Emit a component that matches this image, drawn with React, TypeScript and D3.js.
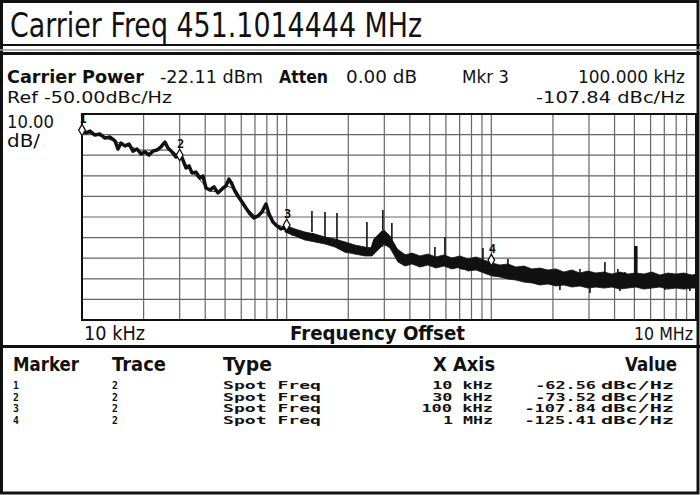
import * as d3 from 'd3'

// phase noise trace (offset in kHz, level in dBc/Hz)
const traceFreq = [10, 10.46, 10.94, 11.57, 12.24, 12.95, 13.7, 14.49, 14.99, 15.51, 16.22, 16.98, 17.75, 18.57, 19.42, 20.31, 21.24, 22.23, 23.23, 24.32, 25.42, 26.3, 27.54, 28.77, 30.13, 31.12, 32.21, 33.34, 34.45, 36.06, 37.67, 38.99, 40.36, 42.17, 44.16, 46.13, 48.31, 50.47, 52.24, 54.08, 55.85, 57.81, 60.53, 63.24, 66.22, 69.18, 72.44, 75.68, 79.25, 82.03, 85.7, 89.74, 93.76, 98.17, 102.6, 107.4, 112.2, 117.5, 122.8, 128.5, 134.3, 140.6, 147.2, 155.6, 164.6, 174.2, 184.1, 195, 206.1, 218.3, 230.7, 243.8, 258.2, 270, 282.5, 295.1, 309, 323.6, 338.1, 354, 369.8, 391.7, 414, 437.5, 463.4, 489.8, 518.6, 548.3, 580.7, 613.8, 648.6, 687.1, 726.1, 769.1, 812.8, 861, 909.9, 961.6, 1018.6, 1076.5, 1153.5, 1233, 1318.3, 1412.5, 1510, 1614.4, 1725.8, 1849.3, 1977, 2113.5, 2264.6, 2421, 2588.1, 2773.3, 2964.8, 3169.7, 3396.3, 3630.8, 3881.5, 4149.5, 4446.3, 4753.4, 5081.6, 5445, 5821, 6223, 6668, 7128.5, 7620.8, 8165.8, 8729.6, 9332.5, 10000]
const traceDb = [-57.8, -59.2, -58.3, -60.2, -59.7, -61.7, -61.2, -63.1, -67.0, -64.1, -65.5, -64.6, -68.0, -67.0, -69.4, -68.4, -69.9, -68.0, -67.5, -66.0, -63.6, -66.5, -68.4, -70.9, -68.9, -72.3, -76.2, -75.2, -78.6, -78.2, -81.1, -80.1, -85.9, -86.9, -85.4, -88.3, -86.4, -84.9, -81.6, -84.0, -87.4, -89.8, -92.7, -95.6, -98.5, -100.5, -99.5, -97.6, -93.7, -98.5, -102.4, -104.4, -105.8, -104.9, -106.3, -108.3, -107.3, -109.7, -108.3, -110.2, -108.7, -111.2, -110.2, -112.1, -111.7, -113.6, -115.0, -116.5, -114.6, -116.0, -115.5, -117.5, -117.0, -111.2, -109.2, -107.3, -110.2, -112.1, -116.0, -118.9, -119.9, -120.9, -120.4, -121.8, -120.9, -122.3, -121.4, -122.3, -121.8, -120.9, -122.3, -123.8, -124.8, -124.3, -124.8, -123.8, -124.8, -126.2, -125.2, -126.7, -126.2, -127.2, -126.7, -127.7, -127.7, -128.6, -128.2, -129.1, -129.1, -130.1, -129.6, -130.6, -130.1, -131.1, -131.6, -131.1, -131.6, -131.1, -131.6, -131.1, -131.6, -130.6, -131.1, -131.6, -131.1, -131.6, -131.1, -131.6, -131.1, -131.6, -131.1, -131.6, -131.1]

// smoothed reference trace
const smoothFreq = [10, 12.24, 15.33, 19.2, 24.04, 26.91, 30.13, 33.71, 37.67, 42.17, 47.21, 51.64, 56.49, 62.55, 69.98, 78.32, 87.7, 100.3, 130, 182, 255.3, 319.9, 400.3, 628.1, 984, 1932, 4246, 10000]
const smoothDb = [-58.3, -60.7, -64.1, -67.5, -67.5, -67.5, -70.4, -77.2, -82.0, -87.4, -87.9, -85.0, -86.9, -94.7, -99.5, -97.6, -103.4, -105.3, -109.2, -113.1, -116.0, -113.1, -119.9, -121.8, -124.8, -128.6, -130.6, -130.6]

// noise band beyond 100 kHz (upper and lower edge)
const bandFreq = [98.1, 109.8, 122.9, 137.5, 153.9, 172.2, 192.7, 215.6, 241.3, 261.1, 279.3, 298.8, 319.6, 349.7, 378.5, 409.5, 448, 490, 536.3, 586.8, 642.1, 702.5, 768.7, 841, 920.2, 1006.7, 1101.6, 1205.3, 1318.7, 1442.8, 1578.4, 1727.2, 1889.8, 2067.8, 2262.5, 2475, 2708.4, 2963.5, 3242.4, 3548, 3882.4, 4247.6, 4647.6, 5085.5, 5564.6, 6088.6, 6662.2, 7288.1, 7975, 8726.5, 9549.9, 10000]
const bandTop = [-103.9, -105.8, -107.3, -108.3, -109.7, -110.7, -112.1, -113.6, -114.6, -115.0, -110.2, -106.3, -109.2, -116.0, -118.4, -117.5, -118.9, -118.0, -119.4, -118.4, -119.9, -118.9, -120.4, -119.4, -120.9, -122.3, -123.3, -122.8, -124.3, -123.8, -125.2, -124.8, -125.7, -125.2, -126.7, -125.7, -127.2, -126.2, -127.2, -126.7, -127.7, -126.7, -127.7, -127.2, -127.7, -126.7, -128.2, -127.2, -127.7, -127.2, -128.2, -127.7]
const bandBottom = [-107.3, -109.2, -111.2, -112.1, -113.1, -114.6, -117.0, -118.0, -118.9, -118.9, -116.0, -113.1, -115.0, -121.8, -123.8, -122.8, -124.3, -123.3, -124.8, -123.8, -125.2, -124.3, -126.2, -125.7, -127.2, -128.6, -129.1, -130.1, -130.6, -131.6, -132.0, -133.0, -132.5, -133.5, -133.0, -134.0, -133.5, -134.5, -134.0, -134.5, -134.0, -135.0, -134.5, -134.0, -135.0, -134.5, -134.0, -135.0, -134.5, -135.0, -134.5, -134.5]

// spurs
const spurFreq = [132.9, 153.9, 176.1, 246.7, 295.1, 326.6, 530, 593.1, 909.9, 1205, 2710, 3589, 4150, 4498]
const spurTop = [-97.1, -97.6, -98.1, -102.4, -96.6, -102.9, -114.6, -109.7, -115.0, -120.4, -125.2, -121.8, -125.2, -126.7]
const spurBase = [-107.3, -110.2, -111.2, -116.0, -106.3, -111.2, -119.9, -119.9, -121.8, -125.7, -128.6, -128.6, -128.6, -128.6]
const wideSpurFreq = [5082]
const wideSpurTop = [-114.1]
const wideSpurBase = [-128.6]
const dipFreq = [2163, 3034, 4246, 7046, 9333]
const dipLevel = [-135.4, -136.9, -135.9, -135.4, -135.9]
const dipBase = [-132.5, -133.0, -133.0, -133.0, -133.0]

// markers
const markerNo = ['1', '2', '3', '4']
const markerTrace = ['2', '2', '2', '2']
const markerType = ['Spot Freq', 'Spot Freq', 'Spot Freq', 'Spot Freq']
const markerAxis = ['10 kHz', '30 kHz', '100 kHz', '1 MHz']
const markerFreq = [10, 30, 100, 1000]
const markerLevel = [-57.8, -69.9, -103.9, -120.9]
const markerValue = ['-62.56', '-73.52', '-107.84', '-125.41']

const sans = 'DejaVu Sans, sans-serif'
const mono = 'DejaVu Sans Mono, monospace'

function T({ x, y, s, size, len, bold = false, anchor = 'start', font = sans }: any) {
  return (
    <text x={x} y={y} fontSize={size} fontFamily={font} fontWeight={bold ? 'bold' : 'normal'}
      textAnchor={anchor} textLength={len} lengthAdjust="spacingAndGlyphs" fill="#111">{s}</text>
  )
}

export default function App() {
  const x = d3.scaleLog().domain([10, 10000]).range([82, 696])
  const y = d3.scaleLinear().domain([-50, -150]).range([114, 320])
  const [x0, x1] = x.range()
  const [y0, y1] = y.range()

  const trace = traceFreq.map((f, i) => [f, traceDb[i]] as [number, number]).filter(d => d[1] !== undefined)
  const smooth = smoothFreq.map((f, i) => [f, smoothDb[i]] as [number, number])
  const band = bandFreq.map((f, i) => ({ f, t: bandTop[i], b: bandBottom[i] }))

  const line = d3.line<[number, number]>().x(d => x(d[0])).y(d => y(d[1]))
  const area = d3.area<{ f: number; t: number; b: number }>()
    .x(d => x(d.f)).y0(d => y(d.b)).y1(d => y(d.t))
  const diamond = d3.symbol(d3.symbolDiamond, 38)()

  const xGrid = x.ticks().filter(v => v > 10 && v < 10000)
  const yGrid = y.ticks(10).filter(v => v < -50 && v > -150)
  const rowY = [389, 400.5, 412, 423.5]
  const rowSize = 9.8

  return (
    <svg width={700} height={495} style={{ position: 'absolute', left: 0, top: 0 }}>
      <rect x={0} y={0} width={700} height={495} fill="#fff" />

      {/* frames */}
      <rect x={1.5} y={1.5} width={696.5} height={491.5} fill="none" stroke="#111" strokeWidth={3} />
      <line x1={0} x2={700} y1={45} y2={45} stroke="#111" strokeWidth={2} />
      <line x1={0} x2={700} y1={50} y2={50} stroke="#999" strokeWidth={1.5} />
      <line x1={0} x2={700} y1={53.5} y2={53.5} stroke="#111" strokeWidth={3} />
      <line x1={0} x2={700} y1={346.5} y2={346.5} stroke="#111" strokeWidth={3} />

      {/* title */}
      <T x={10} y={37} s="Carrier Freq 451.1014444 MHz" size={33} len={412} />

      {/* header */}
      <T x={7} y={83} s="Carrier Power" size={18} len={137} bold />
      <T x={160} y={83} s="-22.11 dBm" size={18} len={103} />
      <T x={279} y={83} s="Atten" size={18} len={49} bold />
      <T x={346} y={83} s="0.00 dB" size={18} len={71} />
      <T x={462} y={83} s="Mkr 3" size={17} len={47} />
      <T x={685} y={83} s="100.000 kHz" size={18} len={107} anchor="end" />
      <T x={7} y={102.5} s="Ref -50.00dBc/Hz" size={16} len={165} />
      <T x={685} y={102.5} s="-107.84 dBc/Hz" size={16} len={149} anchor="end" />
      <T x={7} y={128} s="10.00" size={17} len={47} />
      <T x={7} y={147} s="dB/" size={17} len={33} />

      {/* grid */}
      <g stroke="#666" strokeWidth={1.2}>
        {xGrid.map(v => <line key={'gx' + v} x1={x(v)} x2={x(v)} y1={y0} y2={y1} />)}
        {yGrid.map(v => <line key={'gy' + v} x1={x0} x2={x1} y1={y(v)} y2={y(v)} />)}
      </g>
      <rect x={x0} y={y0} width={x1 - x0} height={y1 - y0} fill="none" stroke="#111" strokeWidth={2} />

      {/* traces */}
      <path d={line(smooth) ?? ''} fill="none" stroke="#333" strokeWidth={1} />
      <path d={area(band) ?? ''} fill="#111" stroke="#111" strokeWidth={0.8} />
      <path d={line(trace) ?? ''} fill="none" stroke="#111" strokeWidth={3.5} strokeLinejoin="round" />
      <g stroke="#111" strokeWidth={1.6}>
        {spurFreq.map((f, i) => <line key={'s' + i} x1={x(f)} x2={x(f)} y1={y(spurTop[i])} y2={y(spurBase[i])} />)}
        {dipFreq.map((f, i) => <line key={'d' + i} x1={x(f)} x2={x(f)} y1={y(dipBase[i])} y2={y(dipLevel[i])} />)}
      </g>
      {wideSpurFreq.map((f, i) => (
        <line key={'w' + i} x1={x(f)} x2={x(f)} y1={y(wideSpurTop[i])} y2={y(wideSpurBase[i])} stroke="#111" strokeWidth={3.5} />
      ))}

      {/* markers */}
      {markerFreq.map((f, i) => (
        <g key={'m' + i} transform={`translate(${x(f)},${y(markerLevel[i])})`}>
          <path d={diamond ?? ''} fill="#fff" stroke="#111" strokeWidth={1.3} />
          <text x={1} y={-7} fontSize={12} fontFamily={mono} fontWeight="bold" textAnchor="middle" fill="#111">{markerNo[i]}</text>
        </g>
      ))}

      {/* axis labels */}
      <T x={84} y={340} s="10 kHz" size={19} len={61} />
      <T x={290} y={340} s="Frequency Offset" size={19} len={175} bold />
      <T x={693} y={340} s="10 MHz" size={18} len={59} anchor="end" />

      {/* marker table */}
      <T x={13} y={371} s="Marker" size={19} len={66} bold />
      <T x={112} y={371} s="Trace" size={19} len={54} bold />
      <T x={223} y={371} s="Type" size={19} len={49} bold />
      <T x={495} y={371} s="X Axis" size={19} len={62} bold anchor="end" />
      <T x={677} y={371} s="Value" size={19} len={52} bold anchor="end" />
      {markerNo.map((m, i) => (
        <g key={'r' + i}>
          <T x={13} y={rowY[i]} s={m} size={rowSize} font={mono} bold />
          <T x={112} y={rowY[i]} s={markerTrace[i]} size={rowSize} font={mono} bold />
          <T x={223} y={rowY[i]} s={markerType[i]} size={rowSize} len={98} font={mono} bold />
          <T x={493} y={rowY[i]} s={markerAxis[i]} size={rowSize} len={markerAxis[i].length * 10.8 - 4} font={mono} bold anchor="end" />
          <T x={596} y={rowY[i]} s={markerValue[i]} size={rowSize} len={markerValue[i].length * 10.8 - 4} font={mono} bold anchor="end" />
          <T x={601} y={rowY[i]} s="dBc/Hz" size={rowSize} len={73} font={mono} bold />
        </g>
      ))}
    </svg>
  )
}
